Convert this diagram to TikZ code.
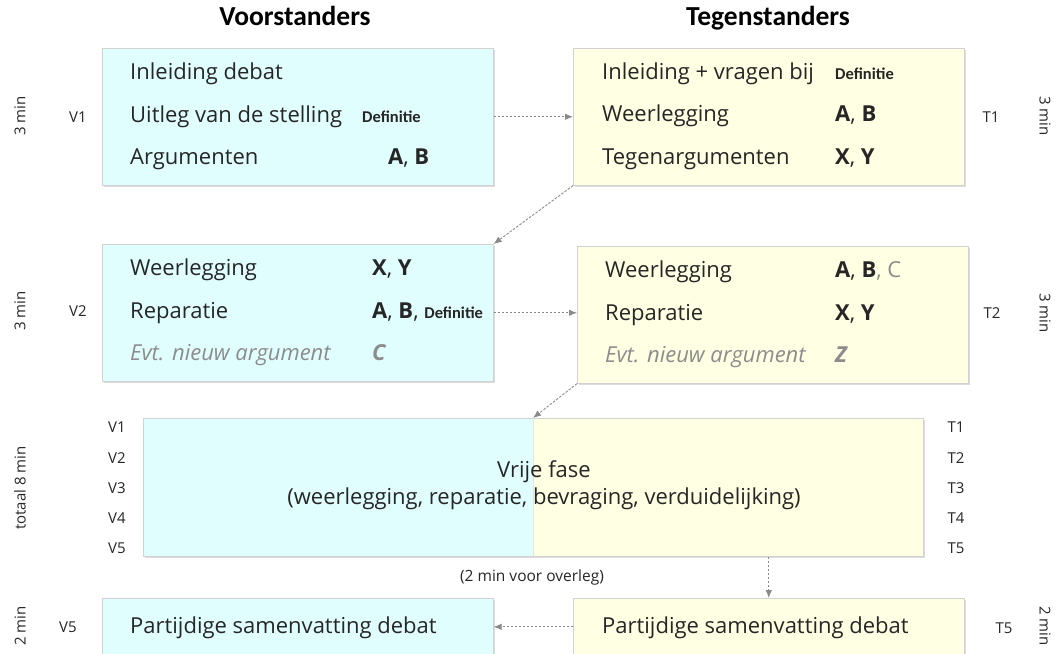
\documentclass[tikz,border=0pt]{standalone}
\usepackage{fontspec}
\setmainfont{Open Sans}
\newfontfamily\calfont{Carlito}
\usetikzlibrary{arrows.meta,shadows}
\definecolor{cyanfill}{HTML}{E1FEFF}
\definecolor{yelfill}{HTML}{FFFFE3}
\definecolor{boxline}{HTML}{D2D2D2}
\definecolor{txt}{HTML}{262626}
\definecolor{muted}{HTML}{8C8C8C}
\definecolor{arr}{HTML}{8A8A8A}
\newcommand\df{{\calfont\bfseries\fontsize{16.5}{19}\selectfont Definitie}}
\begin{document}
\begin{tikzpicture}[x=1pt,y=-1pt,
  box/.style={draw=boxline, line width=0.6pt,
    drop shadow={shadow xshift=1.5pt, shadow yshift=-1.5pt, opacity=0.3, fill=black!45},
    inner sep=0, minimum width=391pt, minimum height=137pt, anchor=north west},
  vbox/.style={box, fill=cyanfill},
  tbox/.style={box, fill=yelfill},
  body/.style={anchor=base west, inner sep=0, font=\fontsize{22}{26}\selectfont, text=txt},
  lab/.style={inner sep=0, font=\fontsize{15}{18}\selectfont, text=txt},
  rotl/.style={lab, rotate=90},
  rotr/.style={lab, rotate=-90},
  head/.style={inner sep=0, anchor=base, font=\calfont\bfseries\fontsize{27.5}{32}\selectfont, text=black},
  conn/.style={draw=arr, line width=0.9pt, dash pattern=on 2.5pt off 1.5pt,
    -{Latex[length=8pt,width=6.5pt]}}
]
\useasboundingbox (0,0) rectangle (1056,653);
\clip (0,0) rectangle (1056,653);

% headers
\node[head] (hv) at (295,25) {Voorstanders};
\node[head] (ht) at (768,25) {Tegenstanders};

% boxes
\node[vbox] (v1) at (102,48) {};
\node[tbox] (t1) at (573,48) {};
\node[vbox] (v2) at (102,244) {};
\node[tbox] (t2) at (577,246) {};
\node[vbox, minimum width=780pt, minimum height=138pt] (free) at (143,418) {};
\fill[yelfill] (533,418) rectangle (923,556);
\draw[boxline, line width=0.6pt] (free.north west) rectangle (free.south east);
\draw[boxline!60, line width=0.4pt] (533,418) -- (533,556);
\node[vbox, minimum height=57pt] (v5) at (102,598) {};
\node[tbox, minimum height=57pt] (t5) at (573,598) {};

% V1 text
\node[body] (v1a) at (130,79) {Inleiding debat};
\node[body] (v1b) at (130,122) {Uitleg van de stelling};
\node[body] (v1bd) at (362,122) {\df};
\node[body] (v1c) at (130,164) {Argumenten};
\node[body] (v1cd) at (388,164) {\textbf{A}, \textbf{B}};

% T1 text
\node[body] (t1a) at (602,79) {Inleiding + vragen bij};
\node[body] (t1ad) at (835,79) {\df};
\node[body] (t1b) at (602,121) {Weerlegging};
\node[body] (t1bd) at (835,121) {\textbf{A}, \textbf{B}};
\node[body] (t1c) at (602,164) {Tegenargumenten};
\node[body] (t1cd) at (835,164) {\textbf{X}, \textbf{Y}};

% V2 text
\node[body] (v2a) at (130,275) {Weerlegging};
\node[body] (v2ad) at (372,275) {\textbf{X}, \textbf{Y}};
\node[body] (v2b) at (130,318) {Reparatie};
\node[body] (v2bd) at (372,318) {\textbf{A}, \textbf{B}, \df};
\node[body, text=muted, font=\itshape\fontsize{22}{26}\selectfont] (v2c) at (130,360) {Evt. nieuw argument};
\node[body, text=muted, font=\itshape\bfseries\fontsize{22}{26}\selectfont] (v2cd) at (372,360) {C};

% T2 text
\node[body] (t2a) at (605,277) {Weerlegging};
\node[body] (t2ad) at (835,277) {\textbf{A}, \textbf{B}\textcolor{muted}{, C}};
\node[body] (t2b) at (605,320) {Reparatie};
\node[body] (t2bd) at (835,320) {\textbf{X}, \textbf{Y}};
\node[body, text=muted, font=\itshape\fontsize{22}{26}\selectfont] (t2c) at (605,362) {Evt. nieuw argument};
\node[body, text=muted, font=\itshape\bfseries\fontsize{22}{26}\selectfont] (t2cd) at (835,362) {Z};

% free phase text
\node[inner sep=0, align=center, text=txt, font=\fontsize{22}{27}\selectfont] (ft) at (544,485)
  {Vrije fase\\(weerlegging, reparatie, bevraging, verduidelijking)};
\node[lab, font=\fontsize{15.5}{18}\selectfont] (overleg) at (532,577) {(2 min voor overleg)};

% bottom text
\node[body] (v5a) at (130,633) {Partijdige samenvatting debat};
\node[body] (t5a) at (602,633) {Partijdige samenvatting debat};

% side labels
\node[rotl] (m1l) at (20,116) {3 min};
\node[rotr] (m1r) at (1045,116) {3 min};
\node[lab] (lv1) at (78,117) {V1};
\node[lab] (lt1) at (991,117) {T1};
\node[rotl] (m2l) at (20,311) {3 min};
\node[rotr] (m2r) at (1045,313) {3 min};
\node[lab] (lv2) at (78,311) {V2};
\node[lab] (lt2) at (992,313) {T2};
\node[rotl] (m3l) at (20,488) {totaal 8 min};
\foreach \i/\yy in {1/427,2/458,3/488,4/518,5/548}{
  \node[lab] (fv\i) at (117,\yy) {V\i};
  \node[lab] (ft\i) at (956,\yy) {T\i};
}
\node[rotl] (m4l) at (20,626) {2 min};
\node[rotr] (m4r) at (1045,626) {2 min};
\node[lab] (lv5) at (68,627) {V5};
\node[lab] (lt5) at (1004,628) {T5};

% connectors
\coordinate (split) at (533,418);
\draw[conn] (v1.east) -- (t1.west);
\draw[conn] (t1.south west) -- (v2.north east);
\draw[conn] (v2.east) -- (v2.east -| t2.west);
\draw[conn] (t2.south west) -- (split);
\draw[conn] (t5.north |- free.south) -- (t5.north);
\draw[conn] (t5.west) -- (v5.east);
\end{tikzpicture}
\end{document}
